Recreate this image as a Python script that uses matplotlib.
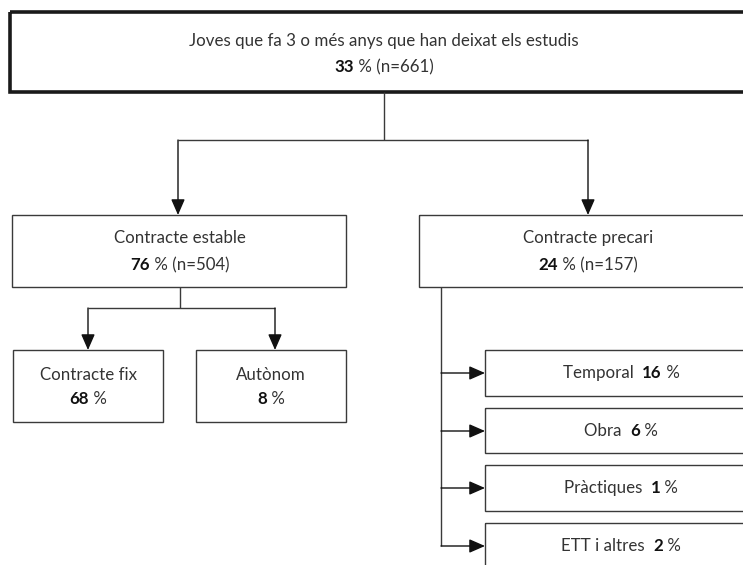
import matplotlib.pyplot as plt
from matplotlib.patches import Rectangle

plt.rcParams['font.family'] = ['Lato', 'DejaVu Sans']

# data
root_label = 'Joves que fa 3 o més anys que han deixat els estudis'
root_pct = 33
root_n = 661

branch_labels = ['Contracte estable', 'Contracte precari']
branch_pct = [76, 24]
branch_n = [504, 157]

stable_labels = ['Contracte fix', 'Autònom']
stable_pct = [68, 8]

precarious_labels = ['Temporal', 'Obra', 'Pràctiques', 'ETT i altres']
precarious_pct = [16, 6, 1, 2]

W, H = 743, 565
fig = plt.figure(figsize=(W / 100, H / 100), dpi=100)
ax = fig.add_axes([0, 0, 1, 1])
ax.set_xlim(0, W)
ax.set_ylim(H, 0)
ax.axis('off')

LINE = '#3a3a3a'
TXT = '#333333'
FS = 12.2
renderer = fig.canvas.get_renderer()


def mixed_line(xc, y, parts):
    # parts: list of (text, bold)
    texts = []
    for s, bold in parts:
        t = ax.text(0, y, s, fontsize=FS, ha='left', va='center',
                    color='#111111' if bold else TXT,
                    fontweight='bold' if bold else 'normal')
        texts.append(t)
    widths = [t.get_window_extent(renderer).width for t in texts]
    x = xc - sum(widths) / 2
    for t, w in zip(texts, widths):
        t.set_x(x)
        x += w


def box(x0, y0, x1, y1, lw=1.0, color=LINE):
    ax.add_patch(Rectangle((x0, y0), x1 - x0, y1 - y0, fill=False,
                           edgecolor=color, linewidth=lw, clip_on=False))


def line(xs, ys):
    ax.plot(xs, ys, color=LINE, linewidth=1.0, solid_capstyle='butt')


def arrow(x0, y0, x1, y1):
    ax.annotate('', xy=(x1, y1), xytext=(x0, y0),
                arrowprops=dict(arrowstyle='-|>,head_length=0.8,head_width=0.35',
                                color='#111111', lw=1.0, shrinkA=0, shrinkB=0,
                                mutation_scale=12))


# root
box(10, 12, 760, 92, lw=2.6, color='#1a1a1a')
mixed_line(384, 41, [(root_label, False)])
mixed_line(384, 67, [(f'{root_pct}', True), (f' % (n={root_n})', False)])

line([384, 384], [92, 140])
line([178, 588], [140, 140])
branch_x = [178, 588]
for bx in branch_x:
    arrow(bx, 140, bx, 215)

# branch boxes
box(12, 215, 346, 287)
box(419, 215, 760, 287)
for bx, lab, p, n in zip([180, 588], branch_labels, branch_pct, branch_n):
    mixed_line(bx, 238, [(lab, False)])
    mixed_line(bx, 265, [(f'{p}', True), (f' % (n={n})', False)])

# stable children
line([180, 180], [287, 308])
line([88, 275], [308, 308])
stable_boxes = [(13, 163), (196, 346)]
stable_arrow_x = [88, 275]
for (x0, x1), ax_x, lab, p in zip(stable_boxes, stable_arrow_x, stable_labels, stable_pct):
    xc = (x0 + x1) / 2
    arrow(ax_x, 308, ax_x, 350)
    box(x0, 350, x1, 422)
    mixed_line(xc, 375, [(lab, False)])
    mixed_line(xc, 399, [(f'{p}', True), (' %', False)])

# precarious children
prec_y = [(350, 396), (408, 453), (465, 511), (523, 580)]
line([441, 441], [287, 546])
for (y0, y1), lab, p in zip(prec_y, precarious_labels, precarious_pct):
    ya = y0 + 23
    arrow(441, ya, 485, ya)
    box(485, y0, 760, y1)
    mixed_line(621, ya, [(lab + '  ', False), (f'{p}', True), (' %', False)])

fig.savefig('out.png', dpi=100)
